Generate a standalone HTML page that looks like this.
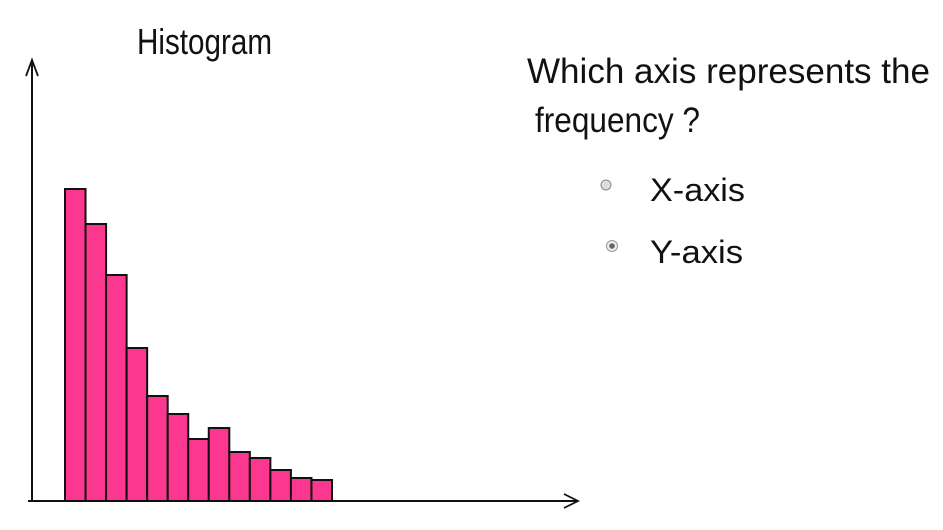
<!DOCTYPE html>
<html><head><meta charset="utf-8"><style>
html,body{margin:0;padding:0;background:#fff;width:943px;height:530px;overflow:hidden}
text{font-family:"Liberation Sans",sans-serif;fill:#111;font-weight:300}
</style></head><body>
<svg id="chart" width="943" height="530">
<text x="137" y="54" font-size="36" textLength="135" lengthAdjust="spacingAndGlyphs">Histogram</text>
<line x1="32" y1="62" x2="32" y2="501" stroke="#111" stroke-width="2"/>
<polyline points="26,76 32,60 38,76" fill="none" stroke="#111" stroke-width="1.8"/>
<line x1="28" y1="501" x2="578" y2="501" stroke="#111" stroke-width="2"/>
<polyline points="564,494 578,501 564,508" fill="none" stroke="#111" stroke-width="1.8"/>
<g id="bars"></g>
<text x="527" y="83" font-size="35" textLength="403" lengthAdjust="spacingAndGlyphs">Which axis represents the</text>
<text x="535" y="132" font-size="35" textLength="165" lengthAdjust="spacingAndGlyphs">frequency ?</text>
<g>
<circle cx="606" cy="185" r="5" fill="#ddd" stroke="#888" stroke-width="1"/>
<text x="650" y="201" font-size="32" textLength="95" lengthAdjust="spacingAndGlyphs">X-axis</text>
</g>
<g>
<circle cx="612" cy="246" r="5.5" fill="#eee" stroke="#999" stroke-width="1"/>
<circle cx="612" cy="246" r="2.8" fill="#666"/>
<text x="650" y="263" font-size="32" textLength="93" lengthAdjust="spacingAndGlyphs">Y-axis</text>
</g>
</svg>
<script>
const categories = ["b1","b2","b3","b4","b5","b6","b7","b8","b9","b10","b11","b12","b13"];
const frequencies = [312,277,226,153,105,87,62,73,49,43,31,23,21];
const x0 = 65, x1 = 332, baseY = 501;
function xScale(i){ return x0 + (x1 - x0) * i / categories.length; }
function yScale(v){ return baseY - v; }
const g = document.getElementById('bars');
const NS = 'http://www.w3.org/2000/svg';
categories.forEach((c, i) => {
  const r = document.createElementNS(NS, 'rect');
  const xa = xScale(i), xb = xScale(i + 1), y = yScale(frequencies[i]);
  r.setAttribute('x', xa); r.setAttribute('y', y);
  r.setAttribute('width', xb - xa); r.setAttribute('height', baseY - y);
  r.setAttribute('fill', '#fc3790'); r.setAttribute('stroke', '#111'); r.setAttribute('stroke-width', '2');
  
  
  g.appendChild(r);
});
</script>
</body></html>
